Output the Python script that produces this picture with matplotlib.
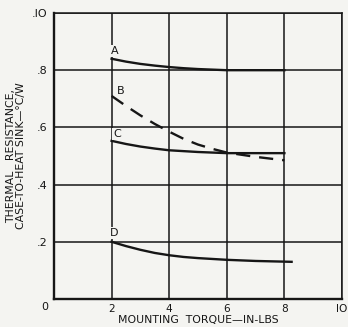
import matplotlib
matplotlib.use("Agg")
import matplotlib.pyplot as plt

# Data
torque = [2, 2.5, 3, 3.5, 4, 4.5, 5, 5.5, 6, 7, 8]
curve_a = [0.84, 0.83, 0.822, 0.816, 0.811, 0.807, 0.804, 0.802, 0.80, 0.80, 0.80]
curve_b = [0.71, 0.675, 0.642, 0.612, 0.585, 0.56, 0.54, 0.525, 0.512, 0.497, 0.485]
curve_c = [0.553, 0.542, 0.533, 0.526, 0.52, 0.517, 0.514, 0.512, 0.51, 0.51, 0.51]
torque_d = [2, 2.5, 3, 3.5, 4, 4.5, 5, 5.5, 6, 7, 8.25]
curve_d = [0.20, 0.185, 0.172, 0.161, 0.153, 0.147, 0.143, 0.14, 0.137, 0.133, 0.13]

xticks = [2, 4, 6, 8, 10]
xticklabels = ["2", "4", "6", "8", "IO"]
yticks = [0, 0.2, 0.4, 0.6, 0.8, 1.0]
yticklabels = ["", ".2", ".4", ".6", ".8", ".IO"]

bg = "#f4f4f1"
ink = "#161616"
plt.rcParams['font.family'] = ['DejaVu Sans']

fig = plt.figure(figsize=(3.48, 3.27), dpi=100, facecolor=bg)
ax = fig.add_axes([54/348, 1 - 299/327, 288/348, 286/327])
ax.set_facecolor(bg)
ax.set_xlim(0, 10)
ax.set_ylim(0, 1.0)

for x in xticks:
    ax.axvline(x, color=ink, lw=1.1, zorder=1)
for y in yticks[1:]:
    ax.axhline(y, color=ink, lw=1.1, zorder=1)
for s in ax.spines.values():
    s.set_color(ink)
    s.set_linewidth(1.1)
ax.spines['left'].set_linewidth(1.7)
ax.spines['bottom'].set_linewidth(1.7)

ax.plot(torque, curve_a, color=ink, lw=1.7, zorder=3)
ax.plot(torque, curve_b, color=ink, lw=1.7, dashes=(6, 3.8), zorder=3)
ax.plot(torque, curve_c, color=ink, lw=1.7, zorder=3)
ax.plot(torque_d, curve_d, color=ink, lw=1.7, zorder=3)

lab_kw = dict(fontsize=8, color=ink, zorder=4, ha="center", va="center",
              bbox=dict(facecolor=bg, edgecolor="none", pad=0.8))
ax.text(2.1, 0.868, "A", **lab_kw)
ax.text(2.3, 0.728, "B", **lab_kw)
ax.text(2.2, 0.578, "C", **lab_kw)
ax.text(2.1, 0.23, "D", **lab_kw)

fs = 8
ax.set_xticks(xticks)
ax.set_xticklabels(xticklabels, fontsize=7.6)
ax.set_yticks(yticks)
ax.set_yticklabels(yticklabels, fontsize=fs)
ax.tick_params(length=0, pad=5, colors=ink)
ax.tick_params(axis='x', pad=3.5)
ax.text(-0.2, -0.028, "0", ha="right", va="center", fontsize=fs, color=ink)

ax.set_xlabel("MOUNTING  TORQUE\u2014IN-LBS", fontsize=7.8, labelpad=0.5, color=ink)
ax.set_ylabel("THERMAL   RESISTANCE,\nCASE-TO-HEAT SINK\u2014\u00b0C/W", fontsize=7.8,
              labelpad=4, linespacing=0.95, color=ink)

fig.savefig("out.png", dpi=100, facecolor=bg)
